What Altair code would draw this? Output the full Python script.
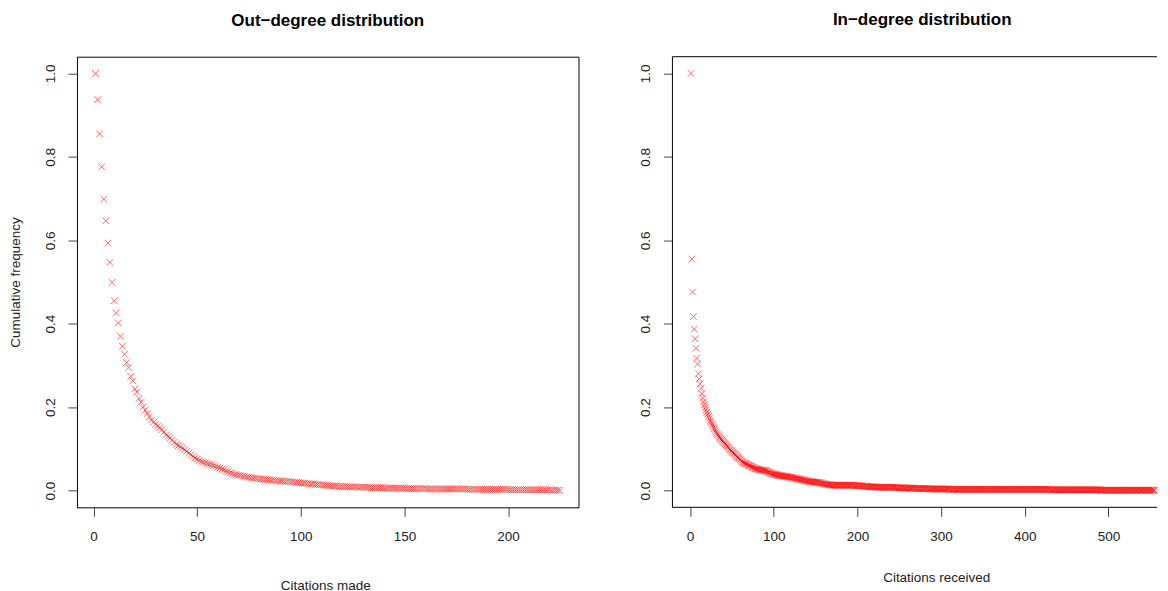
import altair as alt
import pandas as pd

FONT = "Liberation Sans"

OUT_TITLE = "Out\u2212degree distribution"
IN_TITLE = "In\u2212degree distribution"
Y_TITLE = "Cumulative frequency"
OUT_XTITLE = "Citations made"
IN_XTITLE = "Citations received"

Y_TICKS = [0.0, 0.2, 0.4, 0.6, 0.8, 1.0]
OUT_XTICKS = [0, 50, 100, 150, 200]
IN_XTICKS = [0, 100, 200, 300, 400, 500]

# out-degree: cumulative frequency at degree 1, 2, 3, ...
out_first_degree = 1
out_freq = [
    1.000, 0.937, 0.855, 0.776, 0.699, 0.647, 0.593, 0.547, 0.499, 0.455, 0.426, 0.402, 0.370, 0.346, 0.327, 0.307, 0.295, 0.274, 0.263, 0.244,
    0.236, 0.221, 0.212, 0.201, 0.193, 0.185, 0.177, 0.169, 0.164, 0.159, 0.155, 0.151, 0.146, 0.140, 0.134, 0.130, 0.126, 0.121, 0.116, 0.111,
    0.108, 0.105, 0.102, 0.098, 0.094, 0.090, 0.086, 0.082, 0.078, 0.075, 0.072, 0.070, 0.068, 0.067, 0.065, 0.063, 0.062, 0.060, 0.058, 0.056,
    0.054, 0.052, 0.050, 0.047, 0.045, 0.043, 0.041, 0.039, 0.038, 0.037, 0.036, 0.035, 0.034, 0.033, 0.032, 0.031, 0.030, 0.030, 0.029, 0.028,
    0.028, 0.027, 0.027, 0.026, 0.026, 0.025, 0.025, 0.024, 0.024, 0.023, 0.023, 0.022, 0.022, 0.022, 0.021, 0.021, 0.020, 0.020, 0.019, 0.019,
    0.018, 0.018, 0.017, 0.017, 0.016, 0.016, 0.015, 0.015, 0.014, 0.014, 0.013, 0.013, 0.012, 0.012, 0.011, 0.011, 0.011, 0.010, 0.010, 0.010,
    0.010, 0.010, 0.009, 0.009, 0.009, 0.009, 0.009, 0.008, 0.008, 0.008, 0.008, 0.008, 0.008, 0.007, 0.007, 0.007, 0.007, 0.007, 0.007, 0.007,
    0.006, 0.006, 0.006, 0.006, 0.006, 0.006, 0.006, 0.006, 0.006, 0.006, 0.005, 0.005, 0.005, 0.005, 0.005, 0.005, 0.005, 0.005, 0.005, 0.005,
    0.004, 0.004, 0.004, 0.004, 0.004, 0.004, 0.004, 0.004, 0.004, 0.004, 0.004, 0.004, 0.004, 0.004, 0.004, 0.004, 0.004, 0.004, 0.004, 0.004,
    0.003, 0.003, 0.003, 0.003, 0.003, 0.003, 0.003, 0.003, 0.003, 0.003, 0.003, 0.003, 0.003, 0.003, 0.003, 0.003, 0.003, 0.003, 0.003, 0.003,
    0.002, 0.002, 0.002, 0.002, 0.002, 0.002, 0.002, 0.002, 0.002, 0.002, 0.002, 0.002, 0.002, 0.002, 0.002, 0.002, 0.002, 0.002, 0.002, 0.002,
    0.001, 0.001, 0.001, 0.001, 0.0005,
]

# in-degree: cumulative frequency at degree 1, 2, 3, ...
in_first_degree = 1
in_freq = [
    1.000, 0.555, 0.476, 0.417, 0.387, 0.364, 0.341, 0.317, 0.303, 0.280, 0.268, 0.256, 0.245, 0.232, 0.222, 0.213, 0.206, 0.199, 0.193, 0.188,
    0.183, 0.178, 0.173, 0.168, 0.164, 0.160, 0.156, 0.152, 0.148, 0.144, 0.140, 0.137, 0.134, 0.131, 0.128, 0.126, 0.123, 0.121, 0.118, 0.116,
    0.114, 0.112, 0.110, 0.107, 0.105, 0.103, 0.100, 0.098, 0.096, 0.094, 0.092, 0.090, 0.088, 0.086, 0.084, 0.082, 0.080, 0.078, 0.076, 0.074,
    0.072, 0.070, 0.068, 0.067, 0.066, 0.065, 0.064, 0.063, 0.062, 0.061, 0.060, 0.059, 0.058, 0.057, 0.056, 0.055, 0.054, 0.053, 0.052, 0.052,
    0.051, 0.051, 0.050, 0.050, 0.049, 0.049, 0.049, 0.048, 0.048, 0.048, 0.047, 0.046, 0.045, 0.044, 0.043, 0.042, 0.041, 0.041, 0.040, 0.040,
    0.039, 0.039, 0.038, 0.038, 0.037, 0.037, 0.036, 0.036, 0.036, 0.035, 0.035, 0.035, 0.034, 0.034, 0.034, 0.033, 0.033, 0.033, 0.032, 0.032,
    0.032, 0.031, 0.031, 0.031, 0.030, 0.030, 0.029, 0.029, 0.028, 0.028, 0.027, 0.027, 0.026, 0.026, 0.025, 0.025, 0.024, 0.024, 0.023, 0.023,
    0.023, 0.022, 0.022, 0.022, 0.021, 0.021, 0.021, 0.021, 0.020, 0.020, 0.020, 0.020, 0.020, 0.019, 0.019, 0.018, 0.018, 0.017, 0.017, 0.016,
    0.016, 0.015, 0.015, 0.015, 0.014, 0.014, 0.014, 0.014, 0.013, 0.013, 0.013, 0.013, 0.013, 0.013, 0.013, 0.013, 0.013, 0.013, 0.013, 0.013,
    0.013, 0.013, 0.013, 0.013, 0.013, 0.013, 0.013, 0.013, 0.013, 0.013, 0.013, 0.013, 0.013, 0.013, 0.013, 0.012, 0.012, 0.012, 0.012, 0.012,
    0.012, 0.012, 0.012, 0.011, 0.011, 0.011, 0.011, 0.010, 0.010, 0.010, 0.010, 0.010, 0.009, 0.009, 0.009, 0.009, 0.009, 0.009, 0.009, 0.009,
    0.009, 0.009, 0.008, 0.008, 0.008, 0.008, 0.008, 0.008, 0.008, 0.008, 0.008, 0.008, 0.008, 0.008, 0.008, 0.008, 0.008, 0.008, 0.008, 0.008,
    0.008, 0.008, 0.008, 0.008, 0.008, 0.007, 0.007, 0.007, 0.007, 0.007, 0.007, 0.007, 0.007, 0.007, 0.007, 0.006, 0.006, 0.006, 0.006, 0.006,
    0.006, 0.006, 0.006, 0.006, 0.006, 0.006, 0.006, 0.006, 0.005, 0.005, 0.005, 0.005, 0.005, 0.005, 0.005, 0.005, 0.005, 0.005, 0.005, 0.005,
    0.005, 0.005, 0.005, 0.005, 0.004, 0.004, 0.004, 0.004, 0.004, 0.004, 0.004, 0.004, 0.004, 0.004, 0.004, 0.004, 0.004, 0.004, 0.004, 0.004,
    0.004, 0.004, 0.004, 0.004, 0.004, 0.004, 0.004, 0.004, 0.004, 0.004, 0.003, 0.003, 0.003, 0.003, 0.003, 0.003, 0.003, 0.003, 0.003, 0.003,
    0.003, 0.003, 0.003, 0.003, 0.003, 0.003, 0.003, 0.003, 0.003, 0.003, 0.003, 0.003, 0.003, 0.003, 0.003, 0.003, 0.003, 0.003, 0.003, 0.003,
    0.003, 0.003, 0.003, 0.003, 0.003, 0.003, 0.003, 0.003, 0.003, 0.003, 0.003, 0.003, 0.003, 0.003, 0.003, 0.003, 0.003, 0.003, 0.003, 0.003,
    0.003, 0.003, 0.003, 0.003, 0.003, 0.003, 0.003, 0.003, 0.003, 0.003, 0.003, 0.003, 0.003, 0.003, 0.003, 0.003, 0.003, 0.003, 0.003, 0.003,
    0.003, 0.003, 0.003, 0.003, 0.003, 0.003, 0.003, 0.003, 0.003, 0.003, 0.003, 0.003, 0.003, 0.003, 0.003, 0.003, 0.003, 0.003, 0.003, 0.003,
    0.003, 0.003, 0.003, 0.003, 0.003, 0.003, 0.003, 0.003, 0.003, 0.003, 0.003, 0.003, 0.003, 0.003, 0.003, 0.003, 0.003, 0.003, 0.003, 0.003,
    0.003, 0.003, 0.003, 0.003, 0.003, 0.003, 0.003, 0.003, 0.003, 0.003, 0.002, 0.002, 0.002, 0.002, 0.002, 0.002, 0.002, 0.002, 0.002, 0.002,
    0.002, 0.002, 0.002, 0.002, 0.002, 0.002, 0.002, 0.002, 0.002, 0.002, 0.002, 0.002, 0.002, 0.002, 0.002, 0.002, 0.002, 0.002, 0.002, 0.002,
    0.002, 0.002, 0.002, 0.002, 0.002, 0.002, 0.002, 0.002, 0.002, 0.002, 0.002, 0.002, 0.002, 0.002, 0.002, 0.002, 0.002, 0.002, 0.002, 0.002,
    0.002, 0.002, 0.002, 0.002, 0.002, 0.002, 0.002, 0.002, 0.002, 0.002, 0.001, 0.001, 0.001, 0.001, 0.001, 0.001, 0.001, 0.001, 0.001, 0.001,
    0.001, 0.001, 0.001, 0.001, 0.001, 0.001, 0.001, 0.001, 0.001, 0.001, 0.001, 0.001, 0.001, 0.001, 0.001, 0.001, 0.001, 0.001, 0.001, 0.001,
    0.001, 0.001, 0.001, 0.001, 0.001, 0.001, 0.001, 0.001, 0.001, 0.001, 0.001, 0.001, 0.001, 0.001, 0.001, 0.001, 0.001, 0.001, 0.001, 0.001,
    0.001, 0.001, 0.001, 0.001, 0.001, 0.001, 0.001, 0.001, 0.001, 0.001, 0.001, 0.001, 0.001, 0.001, 0.0005,
]

out_df = pd.DataFrame({
    "degree": list(range(out_first_degree, out_first_degree + len(out_freq))),
    "freq": out_freq,
})
in_df = pd.DataFrame({
    "degree": list(range(in_first_degree, in_first_degree + len(in_freq))),
    "freq": in_freq,
})

X_SHAPE = "M-1,-1L1,1M-1,1L1,-1"
TXT = "#222222"
TICK = "#444444"
PLOT_H = 451
LEFT_W = 502
RIGHT_W = 485


def points(df, xtitle, xticks, xdomain, ytitle, xtitle_x, xtitle_y):
    yaxis_kw = dict(
        values=Y_TICKS, format=".1f", grid=False, domain=False,
        tickSize=9, tickColor=TICK, labelPadding=13.5,
        labelAngle=270, labelAlign="center", labelBaseline="alphabetic",
        labelFont=FONT, labelFontSize=13.5, labelColor=TXT, labelOverlap=False,
    )
    if ytitle:
        yaxis_kw.update(
            title=ytitle, titleFont=FONT, titleFontSize=13.5, titleFontWeight="normal",
            titleColor=TXT, titleAngle=270, titleAlign="center", titleBaseline="bottom",
            titleX=-54, titleY=PLOT_H / 2,
        )
    else:
        yaxis_kw.update(title=None)
    return alt.Chart(df).mark_point(
        shape=X_SHAPE, filled=False, color="#ff0000", strokeWidth=1,
        opacity=0.6, size=44,
    ).encode(
        x=alt.X(
            "degree:Q",
            scale=alt.Scale(domain=xdomain, nice=False, zero=False),
            axis=alt.Axis(
                values=xticks, title=xtitle, grid=False, domain=False,
                tickSize=9, tickColor=TICK, labelPadding=13,
                labelFont=FONT, labelFontSize=13.5, labelColor=TXT,
                labelFlush=False, labelOverlap=False,
                titleFont=FONT, titleFontSize=13.5, titleFontWeight="normal",
                titleColor=TXT, titleBaseline="alphabetic",
                titleAlign="center", titleX=xtitle_x, titleY=xtitle_y,
            ),
        ),
        y=alt.Y(
            "freq:Q",
            scale=alt.Scale(domain=[-0.04, 1.04], nice=False, zero=False),
            axis=alt.Axis(**yaxis_kw),
        ),
    )


def title(text, dx):
    return alt.TitleParams(
        text, font=FONT, fontSize=17, fontWeight="bold", color="#000000",
        anchor="middle", baseline="alphabetic", offset=14, dx=dx,
    )


left = points(out_df, OUT_XTITLE, OUT_XTICKS, [-7.96, 233.96], Y_TITLE, 248.5, 82).properties(
    width=LEFT_W, height=PLOT_H, title=title(OUT_TITLE, 0),
)

# right panel: the reference plot box runs off the right edge of the picture,
# so it is drawn open on the right (top, bottom and left edges only)
edge = alt.Chart(pd.DataFrame({"edge": [0]}))
top_edge = edge.mark_rule(color="#000000", strokeWidth=1).encode(
    x=alt.value(0), x2=alt.value(RIGHT_W), y=alt.value(0))
bottom_edge = edge.mark_rule(color="#000000", strokeWidth=1).encode(
    x=alt.value(0), x2=alt.value(RIGHT_W), y=alt.value(PLOT_H))
left_edge = edge.mark_rule(color="#000000", strokeWidth=1).encode(
    x=alt.value(0), y=alt.value(0), y2=alt.value(PLOT_H))

right_pts = points(in_df, IN_XTITLE, IN_XTICKS, [-21.16, -21.16 + RIGHT_W / 0.8373],
                   None, 264, 74.5)
right = alt.layer(right_pts, top_edge, bottom_edge, left_edge).properties(
    width=RIGHT_W, height=PLOT_H, title=title(IN_TITLE, 7.5),
    view=alt.ViewBackground(stroke=None),
)

chart = alt.hconcat(left, right, spacing=94, bounds="flush").properties(
    padding={"left": 0, "top": 2.5, "right": 0, "bottom": 0},
).configure_view(stroke="#000000", strokeWidth=1)

chart.save("out.html", embed_options={"renderer": "svg", "actions": False})
